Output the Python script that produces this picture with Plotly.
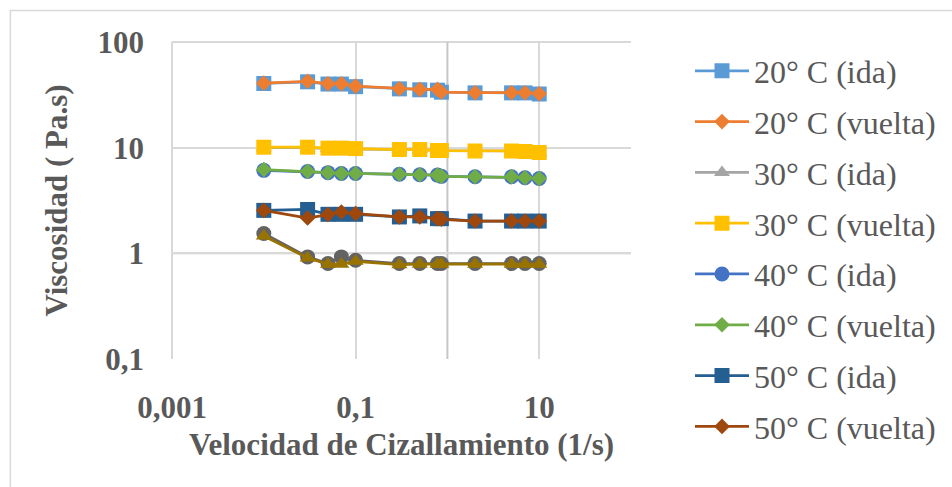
import plotly.graph_objects as go

# Shear rate (1/s)
shear_rate = [0.01, 0.03, 0.05, 0.07, 0.1, 0.3, 0.5, 0.78, 0.86, 2, 5, 7, 10]

# Viscosity (Pa.s) for each temperature, forward (ida) and return (vuelta) sweeps
visc_20_ida = [40.5, 42.0, 40.0, 40.0, 37.8, 36.0, 35.3, 35.0, 33.5, 33.0, 33.0, 33.0, 32.2]
visc_20_vuelta = [40.8, 42.5, 40.3, 40.3, 38.2, 36.1, 35.6, 35.6, 33.6, 33.1, 33.1, 33.1, 32.4]
visc_30_ida = [10.0, 10.0, 9.8, 9.8, 9.7, 9.6, 9.6, 9.4, 9.4, 9.3, 9.3, 9.1, 8.9]
visc_30_vuelta = [10.1, 10.1, 9.9, 9.9, 9.8, 9.6, 9.6, 9.4, 9.4, 9.3, 9.3, 9.2, 9.0]
visc_40_ida = [6.1, 5.95, 5.8, 5.7, 5.7, 5.6, 5.55, 5.5, 5.35, 5.3, 5.3, 5.2, 5.1]
visc_40_vuelta = [6.2, 5.97, 5.8, 5.7, 5.7, 5.6, 5.55, 5.5, 5.35, 5.3, 5.3, 5.2, 5.1]
visc_50_ida = [2.55, 2.6, 2.34, 2.34, 2.34, 2.21, 2.26, 2.13, 2.13, 2.02, 2.02, 2.02, 2.02]
visc_50_vuelta = [2.55, 2.16, 2.33, 2.46, 2.38, 2.21, 2.21, 2.13, 2.10, 2.02, 2.02, 2.02, 2.02]
visc_60_ida = [1.54, 0.925, 0.80, 0.925, 0.86, 0.80, 0.80, 0.80, 0.80, 0.80, 0.80, 0.80, 0.80]
visc_60_vuelta = [1.46, 0.905, 0.79, 0.79, 0.84, 0.78, 0.79, 0.79, 0.79, 0.79, 0.79, 0.79, 0.79]

x_ticks = [0.001, 0.1, 10]
x_tick_text = ["0,001", "0,1", "10"]
y_ticks = [0.1, 1, 10, 100]
y_tick_text = ["0,1", "1", "10", "100"]

series = [
    ("20° C (ida)", visc_20_ida, "#5B9BD5", "square", 15, True),
    ("20° C (vuelta)", visc_20_vuelta, "#ED7D31", "diamond", 12, True),
    ("30° C (ida)", visc_30_ida, "#A5A5A5", "triangle-up", 14, True),
    ("30° C (vuelta)", visc_30_vuelta, "#FFC000", "square", 15, True),
    ("40° C (ida)", visc_40_ida, "#4472C4", "circle", 15, True),
    ("40° C (vuelta)", visc_40_vuelta, "#70AD47", "diamond", 12, True),
    ("50° C (ida)", visc_50_ida, "#255E91", "square", 15, True),
    ("50° C (vuelta)", visc_50_vuelta, "#9E480E", "diamond", 12, True),
    ("60° C (ida)", visc_60_ida, "#636363", "circle", 15, False),
    ("60° C (vuelta)", visc_60_vuelta, "#997300", "triangle-up", 14, False),
]

FONT = "Liberation Serif"
TEXT = "#595959"
GRID = "#D9D9D9"

fig = go.Figure()
for name, vals, color, symbol, size, in_legend in series:
    fig.add_trace(go.Scatter(
        x=shear_rate, y=vals, name=name, legendgroup=name,
        mode="lines+markers",
        line=dict(color=color, width=2.75),
        marker=dict(symbol=symbol, size=size, color=color),
        showlegend=in_legend,
    ))

L, R, T, B = 172, 320, 41.5, 128
W, H = 952, 487
pw, ph = W - L - R, H - T - B

# plot-area edges at the axis minimum / maximum
fig.add_shape(type="line", xref="paper", yref="paper", x0=0, x1=0, y0=0, y1=1,
              line=dict(color=GRID, width=2), layer="below")
fig.add_shape(type="line", xref="paper", yref="paper", x0=0, x1=1, y0=1, y1=1,
              line=dict(color=GRID, width=2), layer="below")
# axis lines crossing at 1 on both log axes
fig.add_shape(type="line", xref="x", yref="paper", x0=1, x1=1, y0=0, y1=1,
              line=dict(color="#C6C6C6", width=2), layer="below")
fig.add_shape(type="line", xref="paper", yref="y", x0=0, x1=1, y0=1, y1=1,
              line=dict(color="#C6C6C6", width=2), layer="below")
# outer chart border
fig.add_shape(type="rect", xref="paper", yref="paper",
              x0=(10 - L) / pw, x1=(W + 20 - L) / pw,
              y0=-(H + 20 - T - ph) / ph, y1=1 + (T - 10) / ph,
              line=dict(color=GRID, width=1.5))

fig.update_xaxes(
    type="log", range=[-3, 2],
    tickvals=x_ticks, ticktext=x_tick_text,
    showgrid=True, gridcolor=GRID, gridwidth=2,
    zeroline=False, showline=False, ticks="",
    tickfont=dict(family=FONT, size=31, color=TEXT, weight="bold"),
    ticklabelstandoff=27,
    title=dict(text="Velocidad de Cizallamiento (1/s)", standoff=9,
               font=dict(family=FONT, size=31, color=TEXT, weight="bold")),
)
fig.update_yaxes(
    type="log", range=[-1, 2],
    tickvals=y_ticks, ticktext=y_tick_text,
    showgrid=True, gridcolor=GRID, gridwidth=2,
    zeroline=False, showline=False, ticks="",
    tickfont=dict(family=FONT, size=31, color=TEXT, weight="bold"),
    ticklabelstandoff=27,
    title=dict(text="Viscosidad ( Pa.s)", standoff=20,
               font=dict(family=FONT, size=31, color=TEXT, weight="bold")),
)

fig.update_layout(
    width=W, height=H,
    margin=dict(l=L, r=R, t=T, b=B),
    paper_bgcolor="white", plot_bgcolor="white",
    font=dict(family=FONT, color=TEXT),
    legend=dict(
        x=(690 - L) / pw, xanchor="left", y=1 + (T - 43) / ph, yanchor="top",
        font=dict(family=FONT, size=32, color=TEXT),
        itemwidth=54, tracegroupgap=6.2, maxheight=470,
        bgcolor="rgba(0,0,0,0)",
    ),
)

fig.write_html("out.html")
